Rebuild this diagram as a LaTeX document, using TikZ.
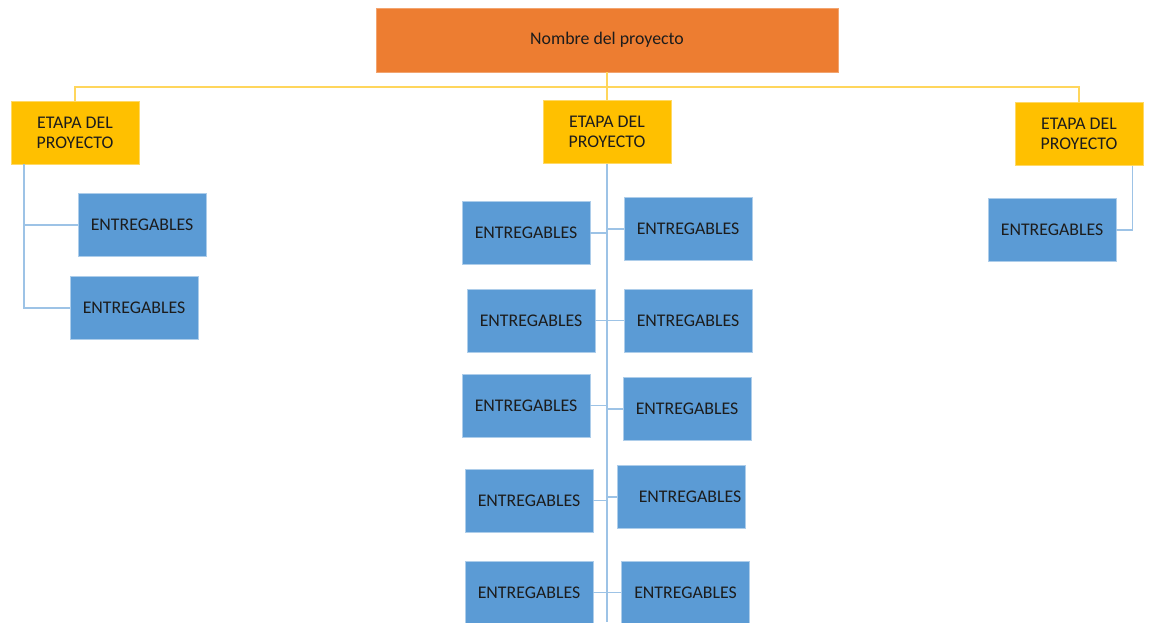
\documentclass[tikz,border=0pt]{standalone}
\usepackage{fontspec}
\setmainfont{Carlito}
\definecolor{projorange}{HTML}{ED7D31}
\definecolor{stagegold}{HTML}{FFC000}
\definecolor{delivblue}{HTML}{5B9BD5}
\definecolor{goldline}{HTML}{FFD65C}
\definecolor{blueline}{HTML}{9DC3E6}
\definecolor{ink}{HTML}{1C1C1C}
\begin{document}
\begin{tikzpicture}[x=1pt,y=-1pt,
  boxbase/.style={rectangle, inner sep=0pt, text=ink, align=center,
    font=\fontsize{17.8}{20}\selectfont},
  project/.style={boxbase, fill=projorange, draw=projorange!70!white, line width=0.6pt,
    minimum width=462pt, minimum height=64pt},
  stage/.style={boxbase, fill=stagegold, draw=stagegold!60!white, line width=0.6pt,
    minimum width=128pt, minimum height=63pt},
  deliv/.style={boxbase, fill=delivblue, draw=delivblue!50!white, line width=0.6pt,
    minimum width=128pt, minimum height=63pt},
  yconn/.style={draw=goldline, line width=1.5pt},
  bconn/.style={draw=blueline, line width=1.6pt}]
\useasboundingbox[fill=white] (0,0) rectangle (1156,622);

% project title
\node[project] (top) at (607,40) {Nombre del proyecto};

% stages
\node[stage] (sL) at (75,132.5)  {ETAPA DEL\\PROYECTO};
\node[stage] (sC) at (607,132)   {ETAPA DEL\\PROYECTO};
\node[stage] (sR) at (1079,134)  {ETAPA DEL\\PROYECTO};

% deliverables, left stage
\node[deliv] (l1) at (142,225) {ENTREGABLES};
\node[deliv] (l2) at (134,308) {ENTREGABLES};

% deliverables, right stage
\node[deliv] (r1) at (1052,230) {ENTREGABLES};

% deliverables, central stage
\node[deliv] (c1a) at (526,233)   {ENTREGABLES};
\node[deliv] (c1b) at (688,229)   {ENTREGABLES};
\node[deliv] (c2a) at (531,320.5) {ENTREGABLES};
\node[deliv] (c2b) at (688,320.5) {ENTREGABLES};
\node[deliv] (c3a) at (526,405.5) {ENTREGABLES};
\node[deliv] (c3b) at (687,409)   {ENTREGABLES};
\node[deliv] (c4a) at (529,500.5) {ENTREGABLES};
\node[deliv] (c4b) at (681,497)   {\hspace*{18pt}ENTREGABLES};
\node[deliv] (c5a) at (529,592.5) {ENTREGABLES};
\node[deliv] (c5b) at (685.5,592.5) {ENTREGABLES};

% top-level bus
\coordinate (bus) at (607,87);
\draw[yconn] (top.south) -- (sC.north);
\draw[yconn] (sL.north) |- (bus) -| (sR.north);

% left stage branch
\coordinate (lv) at ([xshift=13pt]sL.south west);
\draw[bconn] (lv) |- (l2.west);
\draw[bconn] (lv |- l1.west) -- (l1.west);

% right stage branch
\draw[bconn] ([xshift=-11pt]sR.south east) |- (r1.east);

% central spine
\coordinate (spineEnd) at (607,622);
\draw[bconn] (sC.south) -- (spineEnd);
\foreach \n in {c1a,c2a,c3a,c4a,c5a}
  \draw[bconn] (\n.east) -- (\n.east -| sC.south);
\foreach \n in {c1b,c2b,c3b,c4b,c5b}
  \draw[bconn] (\n.west) -- (\n.west -| sC.south);
\end{tikzpicture}
\end{document}
